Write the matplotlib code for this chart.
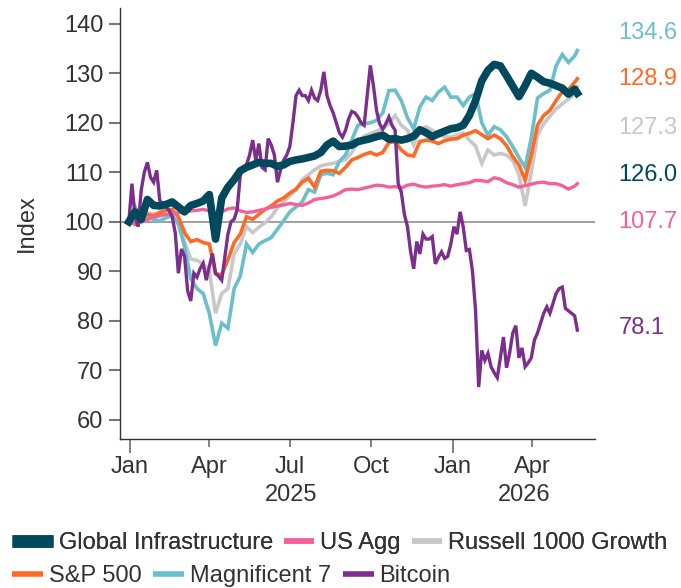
import numpy as np
import pandas as pd
import matplotlib
matplotlib.use("Agg")
import matplotlib.pyplot as plt
import matplotlib.dates as mdates

plt.rcParams['font.family'] = ['Liberation Sans', 'DejaVu Sans']

# ---------------- data (index = 100 at start) ----------------
# weekly observations for most series
dates = list(pd.date_range('2024-12-31', periods=73, freq='7D')) + [pd.Timestamp('2026-05-22')]
# twice-weekly observations for Bitcoin (more volatile)
btc_dates = list(pd.date_range('2024-12-31', periods=145, freq='84h')) + [pd.Timestamp('2026-05-22')]

global_infra = [100, 102, 100.5, 104.5, 103.3, 103.2, 103.5, 104, 103, 102,
                103.3, 103.7, 104.2, 105.5, 96.5, 104.8, 107, 108.5, 110.3, 111,
                111.5, 112, 111.8, 111.8, 111.2, 111.5, 112.2, 112.5, 112.7, 113,
                113.3, 114, 115.5, 116.3, 115.2, 115.3, 115.5, 116.2, 116.5, 116.8,
                117.2, 117.5, 116.7, 116.8, 116.5, 116.8, 117.3, 118.6, 118, 117.2,
                117.8, 118.3, 118.8, 119, 119.5, 121.5, 124.5, 128.5, 130.6, 131.8,
                131.5, 129.5, 127.4, 125.3, 127.5, 130, 129.2, 128.3, 128, 127.5,
                127, 125.8, 126.8, 126.0]

us_agg = [100, 99.6, 99.9, 100.4, 101, 101.2, 101.5, 101.7, 101.8, 102,
          102.2, 102.3, 102.5, 102.2, 101.8, 102, 102.6, 102.8, 102.2, 101.9,
          102, 102.3, 102.6, 102.9, 103.2, 103.4, 103.7, 103.5, 103.3, 103.8,
          104.5, 104.7, 104.9, 105.2, 105.8, 106.5, 106.6, 106.5, 106.8, 107.1,
          107.4, 107.3, 107, 107.1, 106.8, 107.4, 107.6, 107.2, 107, 107.2,
          107.3, 107.5, 107.2, 107.5, 107.7, 107.9, 108.4, 108.3, 108.1, 108.9,
          108.6, 107.9, 107.5, 107, 107.3, 107.6, 107.9, 108, 107.7, 107.7,
          107.3, 106.6, 107.2, 107.7]

russell_growth = [100, 99.5, 101, 101.8, 101.5, 102, 102.5, 102.5, 100, 96,
                  92.5, 92.2, 91.5, 90, 81.5, 85.5, 86.5, 93.5, 95.5, 99,
                  97.8, 98.9, 99.8, 101, 102.8, 104, 105.3, 106.4, 108.5, 109.5,
                  110.5, 111.3, 111.6, 111.8, 112.2, 112.6, 114, 116.2, 117.3, 117.8,
                  118.3, 118.8, 119.8, 121.5, 119.5, 118.5, 115.5, 118.5, 119.2, 118.5,
                  117.5, 117.2, 117.1, 117.5, 117.9, 116.5, 115.3, 111.8, 114.5, 113.5,
                  113.8, 113.5, 112.4, 109.5, 103.2, 110, 117.5, 119.8, 121.3, 122.8,
                  123.8, 124.8, 125.8, 127.3]

sp500 = [100, 99.5, 101, 101.5, 101.2, 101.8, 102.3, 102.5, 101, 97.8,
         96, 96.4, 95.8, 95.5, 89.5, 89.3, 92.3, 95.8, 97.5, 101,
         100.5, 101.5, 102.5, 103.2, 104.2, 104.8, 105.8, 106.6, 108, 108.8,
         107, 110.2, 110.4, 110.3, 109.8, 111, 112.5, 113, 113.6, 114,
         113.5, 114, 116, 116.2, 114.5, 113.5, 113.3, 116.2, 116.5, 116.3,
         115.8, 116.4, 116.7, 116.8, 117.5, 117.9, 118.4, 117.6, 116.8, 117.5,
         116.8, 115.4, 113.2, 111.5, 108.4, 113.5, 119.5, 121.5, 122.5, 124.5,
         126.3, 126.7, 128.2, 128.9]

mag7 = [100, 103, 100.5, 101, 100.5, 100.2, 100.8, 101.3, 99.5, 95,
        88.5, 86.5, 85.5, 81.5, 75, 79.5, 78.5, 86.5, 89, 95.5,
        93.8, 95.5, 96.2, 96.8, 98.5, 100.2, 102, 103, 104, 106.5,
        106, 109.5, 109.8, 109.5, 112.2, 113.5, 116.5, 119.5, 119.8, 120,
        120.5, 122, 126.5, 126.6, 124.5, 121, 118.8, 123.2, 125.2, 124.5,
        126.2, 127.2, 125.2, 125.2, 123.5, 125.2, 125.9, 120, 117.5, 119.2,
        118.6, 117.2, 115.2, 113, 111, 117, 125, 125.9, 126.6, 131.5,
        133.8, 132.2, 133.5, 134.6]

bitcoin = [100, 107.7, 101, 99, 106.4, 110, 112, 109, 108, 110.4,
           104.3, 103.5, 103, 102.3, 101, 97.7, 89.6, 94.5, 93, 86,
           84, 89.6, 88.8, 90.5, 91.6, 88.2, 91, 93.6, 89.6, 89,
           88.2, 92.9, 97.5, 100, 100.5, 102.5, 109.5, 111, 111.5, 113.5,
           116.5, 112.4, 115.8, 111, 110.5, 116.8, 115.5, 113.5, 108, 110.5,
           112.4, 113.5, 115.2, 120, 125.5, 126.6, 125.5, 125.5, 124.5, 126.6,
           125, 124.5, 126.6, 130.3, 125.5, 123.5, 122, 120, 118, 117.1,
           118.5, 120.8, 122.3, 122, 121.2, 120, 119.5, 125.5, 131.6, 127.5,
           122.5, 119.8, 118.7, 119.8, 121.2, 119.5, 118.5, 107.7, 106, 101.5,
           99, 94, 90.5, 96, 93.5, 97.5, 96.5, 96.5, 97, 91.5,
           92.8, 93.9, 92.6, 93, 95.5, 99, 97.5, 102, 99, 94.2,
           94.4, 90, 82, 66.6, 74, 72, 73.4, 70.7, 69.5, 68.5,
           72.5, 76.7, 70.5, 73.5, 77.5, 79, 72.5, 74.5, 70.7, 71.5,
           72.5, 76.1, 77.5, 79.5, 81.5, 82.8, 81.5, 83.5, 85.5, 86.5,
           86.8, 82.5, 82, 81.5, 81, 78.1]

names = ['Global Infrastructure', 'US Agg', 'Russell 1000 Growth',
         'S&P 500', 'Magnificent 7', 'Bitcoin']
end_labels = ['126.0', '107.7', '127.3', '128.9', '134.6', '78.1']
y_ticks = [60, 70, 80, 90, 100, 110, 120, 130, 140]

# ---------------- styling ----------------
colors = ['#00485c', '#f4619a', '#c8c8c8', '#fe6a24', '#6bbfca', '#7b2e8c']
widths = [5.5, 2.4, 2.6, 2.6, 2.6, 2.4]
zorders = [8, 6, 3, 5, 4, 7]
label_y = [109.4, 99.9, 118.9, 128.8, 138.1, 78.5]   # text placement of end labels
FS = 17
TXT = '#333333'
W, H = 681, 588

fig = plt.figure(figsize=(W/100, H/100), dpi=100)
ax = fig.add_axes([120/W, 1-439/H, 475/W, 431/H])

series = [global_infra, us_agg, russell_growth, sp500, mag7, bitcoin]
xdates = [dates, dates, dates, dates, dates, btc_dates]
handles = []
for vals, xd, c, lw, z, nm in zip(series, xdates, colors, widths, zorders, names):
    h, = ax.plot(mdates.date2num(xd), vals, color=c, lw=lw, zorder=z, label=nm,
                 solid_joinstyle='miter' if lw < 5 else 'round')
    handles.append(h)

ax.axhline(100, color='#999999', lw=1.3, zorder=2)

x0 = mdates.date2num(pd.Timestamp('2024-12-21'))
x1 = mdates.date2num(pd.Timestamp('2026-06-11'))
ax.set_xlim(x0, x1)
ax.set_ylim(56.1, 143.2)

ax.set_yticks(y_ticks)
ax.set_yticklabels([str(v) for v in y_ticks])
ax.tick_params(axis='y', length=8, width=1.5, color='#777777', labelsize=FS,
               labelcolor=TXT, pad=4)

xt = [pd.Timestamp(d) for d in ['2025-01-01', '2025-04-01', '2025-07-01',
                                 '2025-10-01', '2026-01-01', '2026-04-01']]
ax.set_xticks(mdates.date2num(xt))
ax.set_xticklabels([d.strftime('%b') for d in xt])
ax.tick_params(axis='x', length=6, width=1.3, color='#777777', labelsize=FS,
               labelcolor=TXT, pad=6)
for t, d in zip(ax.xaxis.get_major_ticks(), xt):
    if d.month == 1:
        t.tick1line.set_markersize(10)

# year labels centred on visible part of each year
for yr in [2025, 2026]:
    a = max(mdates.date2num(pd.Timestamp(f'{yr}-01-01')), x0)
    b = min(mdates.date2num(pd.Timestamp(f'{yr}-12-31')), x1)
    ax.text((a+b)/2, -0.13, str(yr), transform=ax.get_xaxis_transform(),
            ha='center', va='center', fontsize=FS, color=TXT)

for s in ['top', 'right']:
    ax.spines[s].set_visible(False)
for s in ['left', 'bottom']:
    ax.spines[s].set_color('#333333')
    ax.spines[s].set_linewidth(1.0)

ax.set_ylabel('Index', fontsize=FS, color=TXT, labelpad=19)

# end labels
for lab, ly, c in zip(end_labels, label_y, colors):
    ax.text(1.05, ly, lab, transform=ax.get_yaxis_transform(), ha='left',
            va='center', fontsize=FS, color=c, clip_on=False)

# ---------------- legend (two rows) ----------------
common = dict(frameon=False, fontsize=FS, borderaxespad=0, borderpad=0,
              handletextpad=0.25, columnspacing=0.5, loc='center left')
row1_y = 1 - 543/H
row2_y = 1 - 576/H

legA = fig.legend(handles=handles[:1], bbox_to_anchor=(12/W, row1_y),
                  handlelength=1.75, **common)
fig.add_artist(legA)
fig.canvas.draw()
bb = legA.get_window_extent()
legB = fig.legend(handles=handles[1:3], bbox_to_anchor=(bb.x1/W + 11/W, row1_y),
                  ncol=2, handlelength=1.25, **common)
fig.add_artist(legB)
legC = fig.legend(handles=handles[3:], bbox_to_anchor=(12/W, row2_y),
                  ncol=3, handlelength=1.3, **common)

for leg in (legA, legB, legC):
    for t in leg.get_texts():
        t.set_color(TXT)
    for lh in leg.legend_handles:
        lh.set_solid_capstyle('butt')
        lh.set_linewidth(4)
legA.legend_handles[0].set_linewidth(9)

fig.savefig('out.png', dpi=100)
